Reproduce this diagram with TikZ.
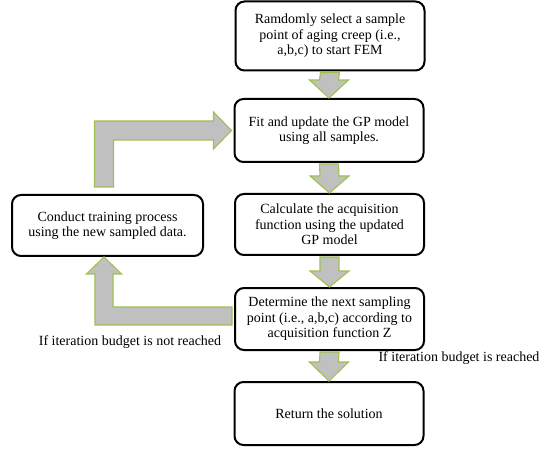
\documentclass[tikz,border=0pt]{standalone}
\usepackage{fontspec}
\setmainfont{Liberation Serif}
\usetikzlibrary{calc}
\definecolor{arrowgray}{RGB}{192,192,192}
\definecolor{arrowgreen}{RGB}{160,192,80}
\tikzset{
  stepbox/.style={rectangle,rounded corners=9pt,draw=black,line width=2pt,fill=white,
    minimum width=189pt,align=center,font=\fontsize{14}{15.5}\selectfont},
  blockarrow/.style={fill=arrowgray,draw=arrowgreen,line width=1.1pt,line join=miter},
  remark/.style={font=\fontsize{14}{15.5}\selectfont}
}
\begin{document}
\begin{tikzpicture}[x=1pt,y=-1pt]
\useasboundingbox (0,0) rectangle (541,449);
\node at (330,36) [stepbox,minimum height=69pt] (SampleBox) {Ramdomly select a sample\\point of aging creep (i.e.,\\a,b,c) to start FEM};
\node at (329,130.5) [stepbox,minimum height=63pt] (FitBox) {Fit and update the GP model\\using all samples.};
\node at (329.5,224.5) [stepbox,minimum height=61pt] (AcqBox) {Calculate the acquisition\\function using the updated\\GP model};
\node at (329.5,319) [stepbox,minimum height=62pt] (NextBox) {Determine the next sampling\\point (i.e., a,b,c) according to\\acquisition function Z};
\node at (329,413.5) [stepbox,minimum height=63pt] (ReturnBox) {Return the solution};
\node at (107.5,225.5) [stepbox,minimum width=191pt,minimum height=61pt] (TrainBox) {Conduct training process\\using the new sampled data.};
\node at (130,342) [remark] (NotReached) {If iteration budget is not reached};
\node at (459,358) [remark] (Reached) {If iteration budget is reached};
\draw[blockarrow] ($(SampleBox.south)+(-9.5,1)$) -- ($(SampleBox.south)+(9.5,1)$) -- ($(FitBox.north)+(9.5,-18)$) -- ($(FitBox.north)+(19.5,-18)$) -- (FitBox.north) -- ($(FitBox.north)+(-19.5,-18)$) -- ($(FitBox.north)+(-9.5,-18)$) -- cycle;
\draw[blockarrow] ($(FitBox.south)+(-9.5,1)$) -- ($(FitBox.south)+(9.5,1)$) -- ($(AcqBox.north)+(9.5,-17)$) -- ($(AcqBox.north)+(19.5,-17)$) -- (AcqBox.north) -- ($(AcqBox.north)+(-19.5,-17)$) -- ($(AcqBox.north)+(-9.5,-17)$) -- cycle;
\draw[blockarrow] ($(AcqBox.south)+(-9.5,1)$) -- ($(AcqBox.south)+(9.5,1)$) -- ($(NextBox.north)+(9.5,-16)$) -- ($(NextBox.north)+(19.5,-16)$) -- (NextBox.north) -- ($(NextBox.north)+(-19.5,-16)$) -- ($(NextBox.north)+(-9.5,-16)$) -- cycle;
\draw[blockarrow] ($(NextBox.south)+(-9.5,1)$) -- ($(NextBox.south)+(9.5,1)$) -- ($(ReturnBox.north)+(9.5,-19)$) -- ($(ReturnBox.north)+(19.5,-19)$) -- (ReturnBox.north) -- ($(ReturnBox.north)+(-19.5,-19)$) -- ($(ReturnBox.north)+(-9.5,-19)$) -- cycle;
\draw[blockarrow] ($(TrainBox.north)+(-13,-7)$) -- ($(TrainBox.north |- FitBox.west)+(-13,-9.5)$) -- ($(FitBox.west)+(-20,-9.5)$) -- ($(FitBox.west)+(-20,-18.5)$) -- ($(FitBox.west)+(-2,0)$) -- ($(FitBox.west)+(-20,18.5)$) -- ($(FitBox.west)+(-20,9.5)$) -- ($(TrainBox.north |- FitBox.west)+(6,9.5)$) -- ($(TrainBox.north)+(6,-7)$) -- cycle;
\draw[blockarrow] ($(NextBox.west)+(-2,6)$) -- ($(TrainBox.south |- NextBox.west)+(-12.5,6)$) -- ($(TrainBox.south)+(-12.5,17)$) -- ($(TrainBox.south)+(-21,17)$) -- ($(TrainBox.south)+(-3.5,0)$) -- ($(TrainBox.south)+(14,17)$) -- ($(TrainBox.south)+(5.5,17)$) -- ($(TrainBox.south |- NextBox.west)+(5.5,-12)$) -- ($(NextBox.west)+(-2,-12)$) -- cycle;
\end{tikzpicture}
\end{document}
